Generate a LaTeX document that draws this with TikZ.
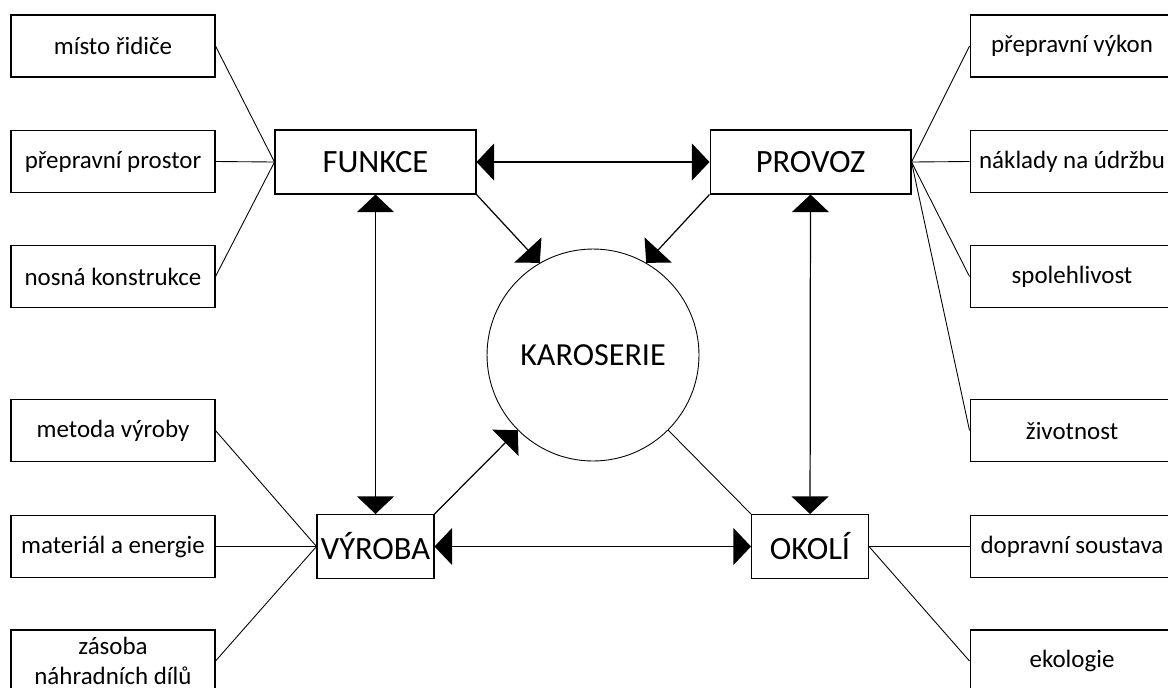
\documentclass[tikz,border=0pt]{standalone}
\usepackage{fontspec}
\setmainfont{Carlito}
\usepackage{tikz}
\usetikzlibrary{arrows.meta, positioning}

\begin{document}
\begin{tikzpicture}[
  x=0.02cm, y=-0.02cm,
  font=\fontsize{14.2}{17}\selectfont,
  item/.style={draw,line width=0.6pt,align=center,minimum width=4.08cm,minimum height=1.24cm,inner sep=2pt},
  main/.style={draw,line width=0.6pt,align=center,minimum width=4.02cm,minimum height=1.28cm,inner sep=1pt,font=\fontsize{18.5}{22}\selectfont},
  small/.style={main,minimum width=2.34cm},
  hub/.style={draw,circle,line width=0.5pt,minimum size=4.24cm,inner sep=0pt,font=\fontsize{18.3}{22}\selectfont},
  link/.style={line width=0.5pt},
  arr/.style={-{Triangle[width=21pt,length=10pt]},line width=0.7pt},
  both/.style={{Triangle[width=21pt,length=10pt]}-{Triangle[width=21pt,length=10pt]},line width=0.7pt}
]
\useasboundingbox (0,0) rectangle (1168,687);

\node[hub] (karoserie) at (593,355) {KAROSERIE};

\node[main] (funkce) at (375.5,162) {FUNKCE};
\node[main] (provoz) at (810.5,162) {PROVOZ};
\node[small] (vyroba) at (375.5,546.5) {VÝROBA};
\node[small] (okoli) at (810,546.5) {OKOLÍ};

\node[item] (misto) at (113,46) {místo řidiče};
\node[item] (prostor) at (113,161.5) {přepravní prostor};
\node[item] (nosna) at (113,276.5) {nosná konstrukce};
\node[item] (metoda) at (113,430.5) {metoda výroby};
\node[item] (material) at (113,546.5) {materiál a energie};
\node[item] (zasoba) at (113,661) {zásoba\\náhradních dílů};

\node[item] (vykon) at (1072,46) {přepravní výkon};
\node[item] (naklady) at (1072,161.5) {náklady na údržbu};
\node[item] (spolehlivost) at (1072,276.5) {spolehlivost};
\node[item] (zivotnost) at (1072,430.5) {životnost};
\node[item] (dopravni) at (1072,546.5) {dopravní soustava};
\node[item] (ekologie) at (1072,661) {ekologie};

\draw[link] (misto.east) -- (funkce.west);
\draw[link] (prostor.east) -- (funkce.west);
\draw[link] (nosna.east) -- (funkce.west);
\draw[link] (metoda.east) -- (vyroba.west);
\draw[link] (material.east) -- (vyroba.west);
\draw[link] (zasoba.east) -- (vyroba.west);
\draw[link] (provoz.east) -- (vykon.west);
\draw[link] (provoz.east) -- (naklady.west);
\draw[link] (provoz.east) -- (spolehlivost.west);
\draw[link] (provoz.east) -- (zivotnost.west);
\draw[link] (okoli.east) -- (dopravni.west);
\draw[link] (okoli.east) -- (ekologie.west);

\draw[both] (funkce) -- (provoz);
\draw[both] (vyroba) -- (okoli);
\draw[both] (funkce) -- (vyroba);
\draw[both] (provoz) -- (okoli);
\draw[arr] (funkce.south east) -- (karoserie.120);
\draw[arr] (provoz.south west) -- (karoserie.60);
\draw[arr] (vyroba.north east) -- (karoserie.225);
\draw[link] (karoserie.-45) -- (okoli.north west);
\end{tikzpicture}
\end{document}
